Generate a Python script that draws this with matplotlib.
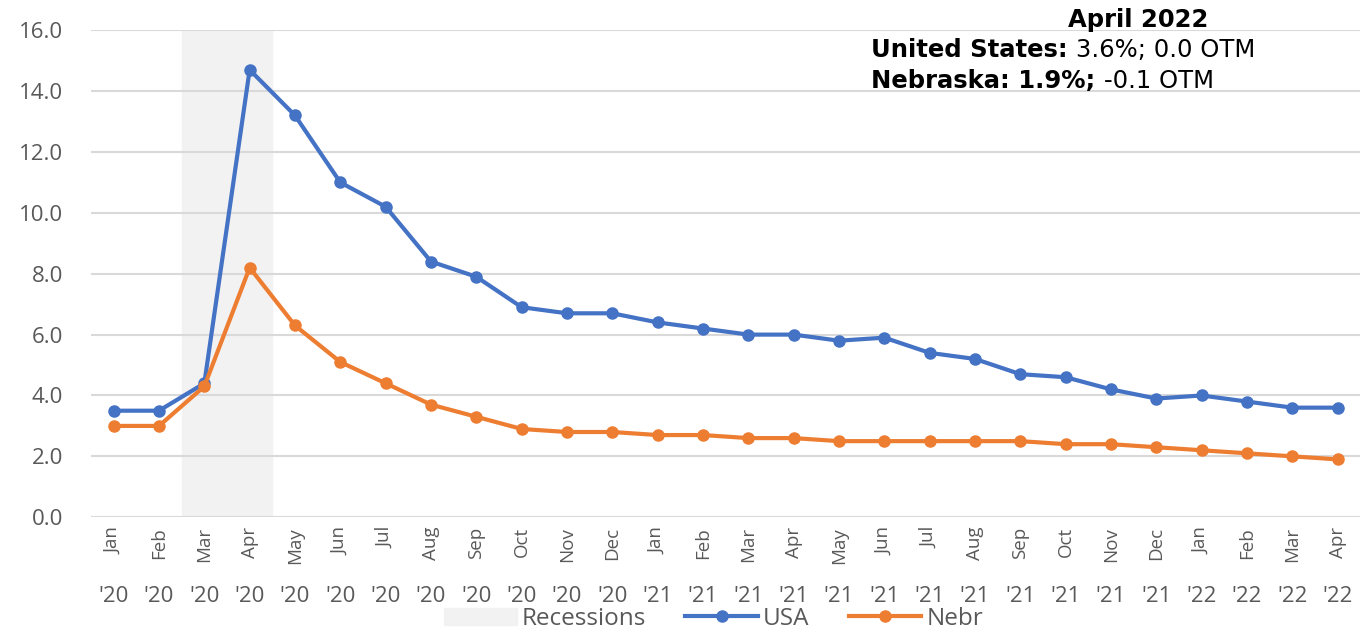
import matplotlib.pyplot as plt
import matplotlib.patches as mpatches
from matplotlib.lines import Line2D
import numpy as np

months = ['Jan', 'Feb', 'Mar', 'Apr', 'May', 'Jun', 'Jul', 'Aug', 'Sep', 'Oct', 'Nov', 'Dec',
          'Jan', 'Feb', 'Mar', 'Apr', 'May', 'Jun', 'Jul', 'Aug', 'Sep', 'Oct', 'Nov', 'Dec',
          'Jan', 'Feb', 'Mar', 'Apr']
years = ["'20"] * 12 + ["'21"] * 12 + ["'22"] * 4
usa = [3.5, 3.5, 4.4, 14.7, 13.2, 11.0, 10.2, 8.4, 7.9, 6.9, 6.7, 6.7,
       6.4, 6.2, 6.0, 6.0, 5.8, 5.9, 5.4, 5.2, 4.7, 4.6, 4.2, 3.9,
       4.0, 3.8, 3.6, 3.6]
nebr = [3.0, 3.0, 4.3, 8.2, 6.3, 5.1, 4.4, 3.7, 3.3, 2.9, 2.8, 2.8,
        2.7, 2.7, 2.6, 2.6, 2.5, 2.5, 2.5, 2.5, 2.5, 2.4, 2.4, 2.3,
        2.2, 2.1, 2.0, 1.9]
recession = (2, 3)  # Mar '20 - Apr '20

plt.rcParams['font.family'] = ['Open Sans', 'DejaVu Sans']
blue = '#4472C4'
orange = '#ED7D31'
grey_txt = '#595959'

fig = plt.figure(figsize=(13.62, 6.30), dpi=100)
ax = fig.add_axes([0.0668, 0.179, 0.932, 0.773])
x = np.arange(len(months))

ax.axvspan(recession[0] - 0.5, recession[1] + 0.5, color='#F2F2F2', zorder=0)
ax.plot(x, usa, color=blue, lw=3, marker='o', ms=8, zorder=3)
ax.plot(x, nebr, color=orange, lw=3, marker='o', ms=8, zorder=3)

ax.set_xlim(-0.5, len(months) - 0.5)
ax.set_ylim(0, 16)
ax.set_yticks(np.arange(0, 16.1, 2))
ax.set_yticklabels(['%.1f' % v for v in np.arange(0, 16.1, 2)], fontsize=16, color=grey_txt)
ax.set_xticks(x)
ax.set_xticklabels(months, rotation=90, fontsize=13.5, color=grey_txt)
ax.tick_params(axis='both', length=0, pad=7)
ax.tick_params(axis='y', pad=20)
ax.grid(axis='y', color='#D9D9D9', lw=1.5)
ax.set_axisbelow(True)
for s in ax.spines.values():
    s.set_visible(False)

# year labels under the months
for i, yr in enumerate(years):
    ax.text(i, -2.6, yr, ha='center', va='center', fontsize=16, color=grey_txt)

# annotation box at top right
ann = dict(fontsize=17.5, color='black', family='DejaVu Sans')
ax.text(0.825, 1.022, 'April 2022', transform=ax.transAxes, ha='center', va='center',
        fontweight='bold', **ann)
t1 = ax.text(0.6145, 0.96, 'United States: ', transform=ax.transAxes, va='center',
             fontweight='bold', **ann)
ax.annotate('3.6%; 0.0 OTM', xycoords=t1, xy=(1, 0), va='bottom', **ann)
t2 = ax.text(0.6145, 0.895, 'Nebraska: 1.9%; ', transform=ax.transAxes, va='center',
             fontweight='bold', **ann)
ax.annotate('-0.1 OTM', xycoords=t2, xy=(1, 0), va='bottom', **ann)

handles = [mpatches.Patch(color='#F2F2F2', label='Recessions'),
           Line2D([], [], color=blue, lw=3, marker='o', ms=8, label='USA'),
           Line2D([], [], color=orange, lw=3, marker='o', ms=8, label='Nebr')]
leg = fig.legend(handles=handles, loc='center', bbox_to_anchor=(0.524, 0.018), ncol=3,
                 frameon=False, fontsize=17.5, handlelength=3.0, handletextpad=0.2,
                 columnspacing=1.6)
for t in leg.get_texts():
    t.set_color(grey_txt)

fig.savefig('out.png', dpi=100)
